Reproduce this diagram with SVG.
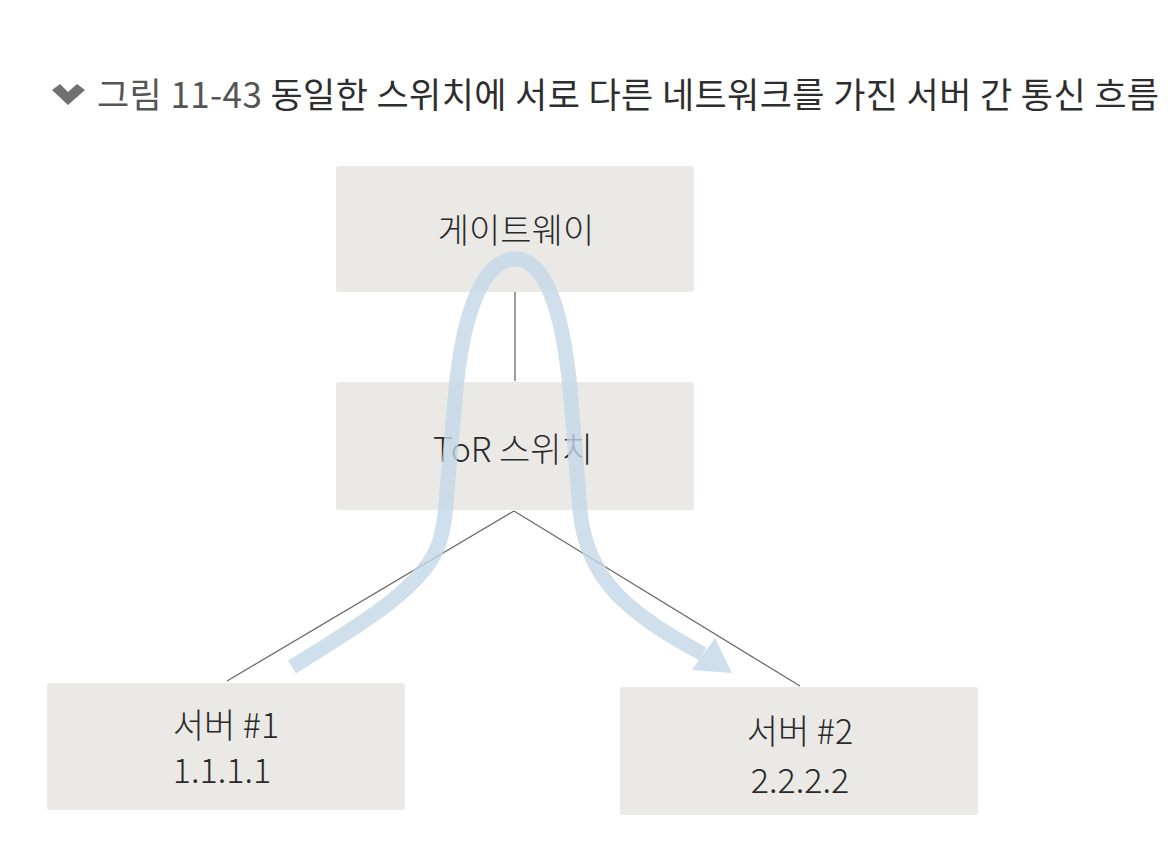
<svg xmlns="http://www.w3.org/2000/svg" width="1168" height="856" viewBox="0 0 1168 856">
<style>
.box{fill:#ebe9e6}
.lbl{font-family:"Noto Sans CJK KR","Noto Sans",sans-serif;font-size:34px;fill:#2a2a2a;text-anchor:middle;font-weight:300}
.title{font-family:"Noto Sans CJK KR","Noto Sans",sans-serif;font-size:35px;fill:#2e2e2e;font-weight:400}
.edge{stroke:#6a6a66;stroke-width:1.3;fill:none}
.flow{stroke:#c3d7e7;stroke-width:15;fill:none;stroke-linecap:butt;opacity:0.8}
</style>
<rect width="1168" height="856" fill="#ffffff"/>
<g id="title">
<path d="M52 90 L60 84 L68 92 L77 84 L85 90 L68 105 Z" fill="#707070"/>
<text class="title" x="97" y="108" textLength="1062" lengthAdjust="spacing"><tspan fill="#555">그림 11-43</tspan> 동일한 스위치에 서로 다른 네트워크를 가진 서버 간 통신 흐름</text>
</g>
<g id="connectors">
<line class="edge" x1="515" y1="292" x2="515" y2="381"/>
<line class="edge" x1="514" y1="511" x2="227" y2="681"/>
<line class="edge" x1="514" y1="511" x2="800" y2="686"/>
</g>
<g id="gateway">
<rect class="box" x="336" y="166" width="358" height="126" rx="3"/>
<text class="lbl" x="516" y="243">게이트웨이</text>
</g>
<g id="tor">
<rect class="box" x="336" y="382" width="358" height="128" rx="3"/>
<text class="lbl" x="513" y="462">ToR 스위치</text>
</g>
<g id="server1">
<rect class="box" x="47" y="683" width="358" height="127" rx="3"/>
<text class="lbl" x="226" y="738">서버 #1</text>
<text class="lbl" x="222" y="783">1.1.1.1</text>
</g>
<g id="server2">
<rect class="box" x="620" y="687" width="358" height="128" rx="3"/>
<text class="lbl" x="800" y="744">서버 #2</text>
<text class="lbl" x="800" y="793">2.2.2.2</text>
</g>
<g id="flow">
<path class="flow" d="M292 667 C360 625 428 585 440 540 C446 520 446 505 447 490 L455 400 C463 300 488 259 515 259 C542 259 563 300 571 400 L580 510 C586 580 630 615 703 654"/>
<polygon points="692,670 715,638 732,673" fill="#c3d7e7" opacity="0.8"/>
</g>
</svg>
